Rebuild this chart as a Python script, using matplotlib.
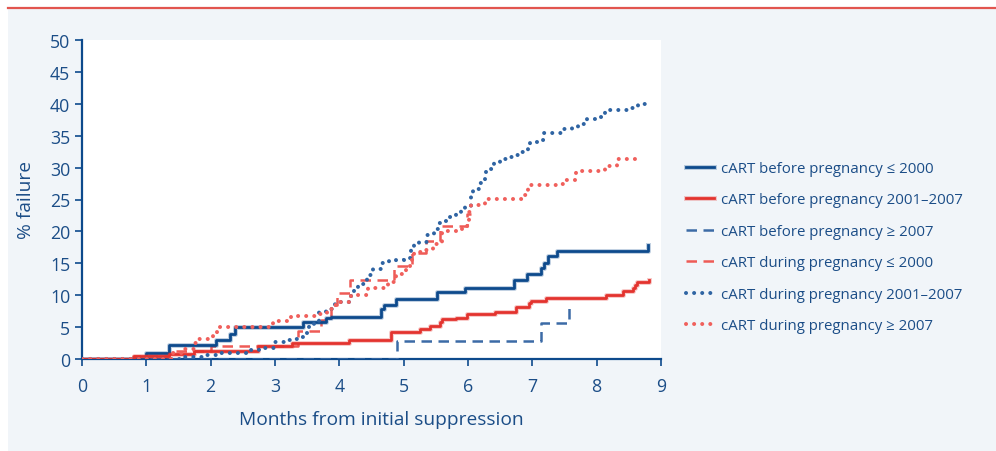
import matplotlib
matplotlib.use("Agg")
import matplotlib.pyplot as plt
from matplotlib.lines import Line2D
from matplotlib.patches import Rectangle
import matplotlib.patheffects as pe

plt.rcParams['font.family'] = ['Open Sans', 'DejaVu Sans']

TEXT = '#1b4d87'
BG = '#f1f5f9'

# Kaplan-Meier style cumulative failure curves (months, % failure)
before_le2000_x = [0, 0.99, 1.36, 2.08, 2.30, 2.38, 3.44, 3.79, 3.87, 4.64, 4.69, 4.88, 5.52,
                   5.95, 6.72, 6.92, 7.14, 7.18, 7.24, 7.38, 8.80]
before_le2000_y = [0, 1.0, 2.2, 2.9, 3.9, 5.0, 5.85, 6.4, 6.6, 7.8, 8.5, 9.4, 10.45,
                   11.2, 12.4, 13.3, 14.3, 15.1, 16.1, 17.0, 17.9]

before_2001_2007_x = [0, 0.81, 1.36, 1.74, 2.73, 3.26, 4.15, 4.80, 5.26, 5.41, 5.57, 5.60, 5.82,
                      5.99, 6.42, 6.74, 6.95, 6.98, 7.22, 8.14, 8.41, 8.57, 8.60, 8.62, 8.82]
before_2001_2007_y = [0, 0.5, 0.8, 1.2, 2.0, 2.5, 3.0, 4.3, 4.7, 5.2, 5.85, 6.2, 6.5,
                      7.05, 7.4, 8.1, 8.8, 9.1, 9.6, 10.1, 10.6, 11.1, 11.6, 12.1, 12.4]

before_ge2007_x = [0, 4.89, 7.13, 7.57]
before_ge2007_y = [0, 2.8, 5.6, 8.2]

during_le2000_x = [0, 0.80, 1.35, 2.00, 3.35, 3.71, 3.87, 3.96, 4.16, 4.85, 5.13, 5.34, 5.56,
                   5.99, 6.05]
during_le2000_y = [0, 0.5, 1.2, 2.0, 4.4, 6.1, 8.4, 10.4, 12.4, 14.6, 16.6, 18.5, 20.9,
                   22.7, 22.7]

during_2001_2007_x = [0, 1.60, 1.90, 2.10, 2.60, 2.75, 2.99, 3.12, 3.19, 3.30, 3.39, 3.45, 3.53,
                      3.61, 3.69, 3.79, 3.87, 3.94, 4.01, 4.18, 4.23, 4.29, 4.43, 4.53, 4.67,
                      4.77, 4.88, 5.00, 5.11, 5.16, 5.24, 5.37, 5.47, 5.55, 5.60, 5.71, 5.81,
                      5.89, 5.96, 6.04, 6.07, 6.14, 6.19, 6.26, 6.27, 6.28, 6.37, 6.41, 6.50,
                      6.57, 6.65, 6.71, 6.77, 6.94, 6.96, 7.17, 7.18, 7.44, 7.62, 7.71, 7.85,
                      8.03, 8.10, 8.13, 8.55, 8.64, 8.85]
during_2001_2007_y = [0, 0.3, 0.6, 1.0, 1.4, 1.8, 2.6, 2.7, 3.0, 3.1, 3.4, 4.1, 5.5,
                      6.0, 7.3, 7.6, 7.8, 8.8, 9.0, 10.2, 11.0, 11.8, 13.1, 14.1, 15.0,
                      15.4, 15.5, 15.9, 17.2, 17.8, 18.4, 19.4, 20.4, 21.3, 21.7, 22.3, 22.8,
                      23.2, 24.0, 25.6, 26.4, 26.7, 27.6, 28.0, 28.9, 29.8, 30.1, 30.7, 31.0,
                      31.3, 31.7, 32.0, 32.5, 33.1, 34.0, 34.3, 35.4, 36.0, 36.2, 36.8, 37.6,
                      37.9, 38.3, 39.1, 39.3, 39.9, 39.9]

during_ge2007_x = [0, 1.40, 1.58, 1.75, 1.80, 2.03, 2.10, 2.97, 3.25, 3.63, 3.81, 3.89, 4.00,
                   4.18, 4.44, 4.75, 4.88, 5.00, 5.03, 5.13, 5.16, 5.34, 5.45, 5.60, 5.91,
                   6.01, 6.04, 6.27, 6.84, 6.92, 6.93, 7.42, 7.47, 7.66, 7.68, 8.08, 8.13,
                   8.32, 8.33, 8.66]
during_ge2007_y = [0, 1.0, 1.6, 2.5, 3.1, 3.9, 5.0, 5.9, 6.8, 7.05, 7.8, 8.4, 9.0,
                   10.0, 11.1, 12.0, 13.3, 13.8, 14.6, 16.0, 16.7, 17.1, 18.0, 20.0, 20.9,
                   23.1, 24.2, 25.1, 25.7, 26.1, 27.2, 27.5, 28.1, 28.4, 29.4, 29.5, 30.2,
                   30.4, 31.4, 31.4]

labels = ['cART before pregnancy \u2264 2000',
          'cART before pregnancy 2001\u20132007',
          'cART before pregnancy \u2265 2007',
          'cART during pregnancy \u2264 2000',
          'cART during pregnancy 2001\u20132007',
          'cART during pregnancy \u2265 2007']

x_ticks = list(range(0, 10))
y_ticks = list(range(0, 55, 5))

fig = plt.figure(figsize=(9.96, 4.52), dpi=100)
fig.patch.set_facecolor('white')
fig.patches.append(Rectangle((8 / 996, 0), 1, (452 - 10) / 452, transform=fig.transFigure,
                             facecolor=BG, edgecolor='none', zorder=-10))
fig.lines.append(Line2D([8 / 996, 1], [(452 - 9) / 452] * 2, transform=fig.transFigure,
                        color='#e2554f', lw=1.6))

ax = fig.add_axes([82 / 996, (452 - 360) / 452, 579 / 996, 319 / 452])
ax.set_facecolor('white')

DOT = (0, (0.01, 2.0))
DASH = (0, (4.2, 2.6))

def halo(c):
    return [pe.Stroke(linewidth=3.6, foreground=c, alpha=0.25), pe.Normal()]

h1, = ax.step(before_le2000_x, before_le2000_y, where='post', color='#0d4a8c', lw=2.0,
              path_effects=halo('#0d4a8c'), zorder=4)
h2, = ax.step(before_2001_2007_x, before_2001_2007_y, where='post', color='#e3332e', lw=2.0,
              path_effects=halo('#e3332e'), zorder=4)
h3, = ax.step(before_ge2007_x, before_ge2007_y, where='post', color='#3c6ba6', lw=1.8,
              linestyle=DASH, zorder=3)
h4, = ax.step(during_le2000_x, during_le2000_y, where='post', color='#ee5b56', lw=1.8,
              linestyle=DASH, zorder=3)
h5, = ax.step(during_2001_2007_x, during_2001_2007_y, where='post', color='#2f64a3', lw=2.9,
              linestyle=DOT, zorder=5)
h6, = ax.step(during_ge2007_x, during_ge2007_y, where='post', color='#f0605c', lw=2.9,
              linestyle=DOT, zorder=5)
for h in (h5, h6):
    h.set_dash_capstyle('round')

ax.set_xlim(0, 9)
ax.set_ylim(0, 50)
ax.set_xticks(x_ticks)
ax.set_yticks(y_ticks)
for s in ('top', 'right'):
    ax.spines[s].set_visible(False)
for s in ('left', 'bottom'):
    ax.spines[s].set_color('#0d4a8c')
    ax.spines[s].set_linewidth(1.6)
ax.tick_params(colors='#0d4a8c', labelcolor=TEXT, labelsize=12.8, length=5, width=1.2,
               direction='out')
ax.tick_params(axis='x', pad=8)
ax.set_xlabel('Months from initial suppression', color=TEXT, fontsize=13.8)
ax.xaxis.set_label_coords(0.517, -0.16)
ax.set_ylabel('% failure', color=TEXT, fontsize=13.8, labelpad=11)

leg = fig.legend([h1, h2, h3, h4, h5, h6], labels, loc='center left',
                 bbox_to_anchor=(686 / 996, (452 - 248) / 452), frameon=False,
                 borderaxespad=0, borderpad=0,
                 fontsize=10.8, handlelength=1.85, handletextpad=0.5, labelspacing=1.1)
for t in leg.get_texts():
    t.set_color(TEXT)

fig.savefig('out.png', dpi=100, facecolor=fig.get_facecolor())
